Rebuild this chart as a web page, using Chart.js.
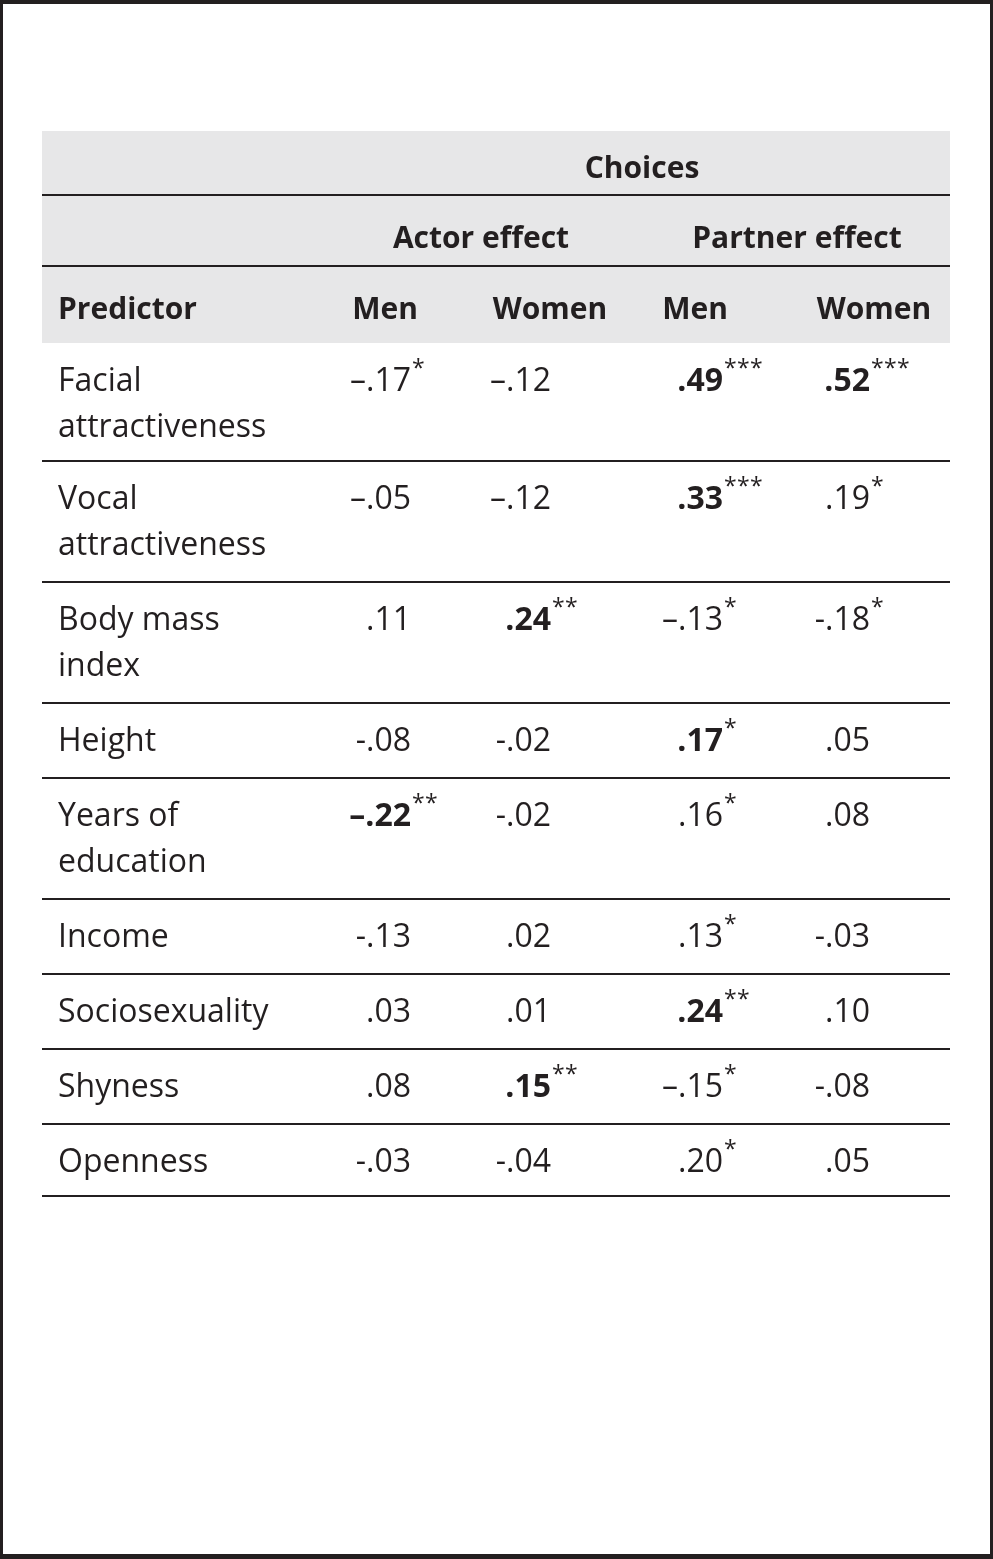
<!DOCTYPE html>
<html>
<head>
<meta charset="utf-8">
<script src="https://cdn.jsdelivr.net/npm/chart.js@4.4.1/dist/chart.umd.min.js"></script>
<style>
  html, body { margin: 0; padding: 0; background: #fff; }
  canvas { display: block; }
</style>
</head>
<body>
<canvas id="tableChart" width="993" height="1559"></canvas>
<script>
'use strict';
/*---------------- table content ----------------*/
const spanTitle = 'Choices';
const groupLabels = ['Actor effect', 'Partner effect'];
const columnLabels = ['Men', 'Women', 'Men', 'Women'];
const stubLabel = 'Predictor';
const predictors = [['Facial', 'attractiveness'], ['Vocal', 'attractiveness'], ['Body mass', 'index'], ['Height'], ['Years of', 'education'], ['Income'], ['Sociosexuality'], ['Shyness'], ['Openness']];
// [..] = printed in bold, trailing * = significance stars
const actorMen = ['–.17*', '–.05', '.11', '-.08', '[–.22]**', '-.13', '.03', '.08', '-.03'];
const actorWomen = ['–.12', '–.12', '[.24]**', '-.02', '-.02', '.02', '.01', '[.15]**', '-.04'];
const partnerMen = ['[.49]***', '[.33]***', '–.13*', '[.17]*', '.16*', '.13*', '[.24]**', '–.15*', '.20*'];
const partnerWomen = ['[.52]***', '.19*', '-.18*', '.05', '.08', '-.03', '.10', '-.08', '.05'];
const series = [actorMen, actorWomen, partnerMen, partnerWomen];

/*---------------- layout (x and y in table units, 1 unit ~ 1px) ----------------*/
const tableWidth = 908;
const stubLeft = 16;
const valueRight = [369, 509, 681, 828];
const headCenter = [343, 508, 653, 832];
const groupCenter = [439, 755];
const spanCenter = 600;
const headRows = [64, 71, 77];
const headBaseline = [47, 53, 53];
const linePitch = 46;
const rowPad = 29;
const firstBaseline = 48;

const ink = '#231f20';
const band = '#e7e7e8';
const fontFamily = '"Open Sans", "Noto Sans", sans-serif';

const headTotal = headRows.reduce((a, b) => a + b, 0);
let rowTops = [];
let yRun = headTotal;
for (let i = 0; i < predictors.length; i++) {
  rowTops.push(yRun);
  yRun += rowPad + linePitch * predictors[i].length;
  if (i === 0) yRun -= 3; // first body row sits a little tighter
}
const tableHeight = yRun - 3;

function parseCell(text) {
  let m = text.match(/^\[(.*)\](\**)$/);
  if (m) {
    return { num: m[1], stars: m[2], bold: true };
  }
  m = text.match(/^(.*?)(\**)$/);
  return { num: m[1], stars: m[2], bold: false };
}

const tablePlugin = {
  id: 'tableDraw',
  beforeDraw(chart) {
    const ctx = chart.ctx;
    const w = chart.width;
    const h = chart.height;
    ctx.save();
    ctx.fillStyle = '#fff';
    ctx.fillRect(0, 0, w, h);
    // outer frame
    ctx.fillStyle = ink;
    ctx.fillRect(0, 0, w, 4);
    ctx.fillRect(0, h - 5, w, 5);
    ctx.fillRect(0, 0, 3, h);
    ctx.fillRect(w - 3, 0, 3, h);
    ctx.restore();
  },
  afterDraw(chart) {
    const ctx = chart.ctx;
    const x = chart.scales.x;
    const y = chart.scales.y;
    const left = x.getPixelForValue(0);
    const right = x.getPixelForValue(tableWidth);
    ctx.save();

    // header band
    ctx.fillStyle = band;
    ctx.fillRect(left, y.getPixelForValue(0), right - left, y.getPixelForValue(headTotal) - y.getPixelForValue(0));

    // rules
    ctx.fillStyle = ink;
    function rule(v) {
      const py = Math.round(y.getPixelForValue(v));
      ctx.fillRect(left, py - 1, right - left, 2);
    }
    rule(headRows[0]);
    rule(headRows[0] + headRows[1]);
    for (let i = 1; i < rowTops.length; i++) {
      rule(rowTops[i]);
    }
    rule(tableHeight);

    // header text
    ctx.fillStyle = ink;
    ctx.textBaseline = 'alphabetic';
    ctx.font = 'bold 30px ' + fontFamily;
    ctx.textAlign = 'center';
    ctx.fillText(spanTitle, x.getPixelForValue(spanCenter), y.getPixelForValue(headBaseline[0]));
    for (let i = 0; i < groupLabels.length; i++) {
      ctx.fillText(groupLabels[i], x.getPixelForValue(groupCenter[i]), y.getPixelForValue(headRows[0] + headBaseline[1]));
    }
    const colBase = y.getPixelForValue(headRows[0] + headRows[1] + headBaseline[2]);
    for (let i = 0; i < columnLabels.length; i++) {
      ctx.fillText(columnLabels[i], x.getPixelForValue(headCenter[i]), colBase);
    }
    ctx.textAlign = 'left';
    ctx.fillText(stubLabel, x.getPixelForValue(stubLeft), colBase);

    // body
    for (let r = 0; r < predictors.length; r++) {
      const base = rowTops[r] + firstBaseline;
      ctx.font = '32px ' + fontFamily;
      ctx.textAlign = 'left';
      for (let l = 0; l < predictors[r].length; l++) {
        ctx.fillText(predictors[r][l], x.getPixelForValue(stubLeft), y.getPixelForValue(base + l * linePitch));
      }
      for (let c = 0; c < series.length; c++) {
        const cell = parseCell(series[c][r]);
        const px = x.getPixelForValue(valueRight[c]);
        const py = y.getPixelForValue(base);
        ctx.font = (cell.bold ? 'bold ' : '') + '32px ' + fontFamily;
        ctx.textAlign = 'right';
        ctx.fillText(cell.num, px, py);
        if (cell.stars) {
          ctx.font = '23px ' + fontFamily;
          ctx.textAlign = 'left';
          let sx = px + 1;
          for (const s of cell.stars) {
            ctx.fillText(s, sx, py - 15);
            sx += 13;
          }
        }
      }
    }
    ctx.restore();
  }
};

new Chart(document.getElementById('tableChart'), {
  type: 'scatter',
  data: { datasets: [] },
  options: {
    responsive: false,
    animation: false,
    devicePixelRatio: 1,
    layout: { padding: { left: 42, right: 993 - 42 - tableWidth, top: 131, bottom: 1559 - 131 - tableHeight } },
    plugins: { legend: { display: false }, tooltip: { enabled: false } },
    scales: {
      x: { type: 'linear', min: 0, max: tableWidth, display: false },
      y: { type: 'linear', min: 0, max: tableHeight, reverse: true, display: false }
    }
  },
  plugins: [tablePlugin]
});
</script>
</body>
</html>
